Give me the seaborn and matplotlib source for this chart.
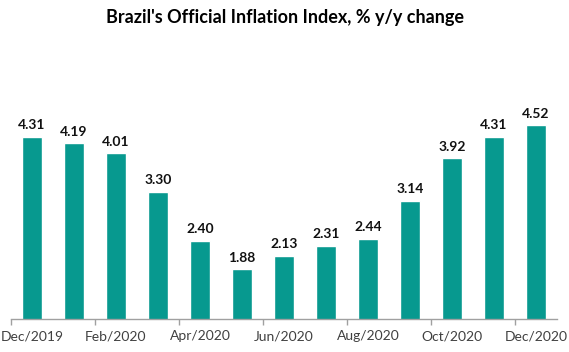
import matplotlib
matplotlib.use("Agg")
import matplotlib.pyplot as plt
import seaborn as sns
import pandas as pd
from matplotlib.ticker import FixedLocator

months = ["Dec/2019", "Jan/2020", "Feb/2020", "Mar/2020", "Apr/2020", "May/2020", "Jun/2020",
          "Jul/2020", "Aug/2020", "Sep/2020", "Oct/2020", "Nov/2020", "Dec/2020"]
inflation = [4.31, 4.19, 4.01, 3.30, 2.40, 1.88, 2.13, 2.31, 2.44, 3.14, 3.92, 4.31, 4.52]

TEAL = "#07998F"

sns.set_theme(style="white")
plt.rcParams['font.family'] = ['Lato', 'DejaVu Sans']

df = pd.DataFrame({"month": months, "value": inflation})

fig = plt.figure(figsize=(5.69, 3.52), dpi=100)
ax = fig.add_axes([11/569, 33/352, 546/569, 216/352])

sns.barplot(data=df, x="month", y="value", color=TEAL, width=0.48, saturation=1, ax=ax)

ax.set_ylim(0.97, 4.93)
ax.set_xlim(-0.5, len(months) - 0.5)

for i, v in enumerate(inflation):
    ax.annotate(f"{v:.2f}", (i, v), xytext=(0, 4), textcoords="offset points",
                ha="center", va="bottom", fontsize=10, fontweight="bold", color="#111111")

# labels every other month, tick marks at category boundaries
ax.set_xticks(range(0, len(months), 2))
ax.set_xticklabels(months[::2], fontsize=10, color="#404040")
ax.tick_params(axis="x", which="major", length=0, pad=8)
ax.xaxis.set_minor_locator(FixedLocator([-0.5 + 2 * k for k in range(7)]))
ax.tick_params(axis="x", which="minor", length=4, color="#A0A0A0", width=1, bottom=True)

ax.set_yticks([])
ax.set_xlabel("")
ax.set_ylabel("")
for s in ["top", "right", "left"]:
    ax.spines[s].set_visible(False)
ax.spines["bottom"].set_color("#A0A0A0")
ax.spines["bottom"].set_linewidth(1)

fig.text(0.5, 1 - 18/352, "Brazil's Official Inflation Index, % y/y change",
         ha="center", va="center", fontsize=13, fontweight="bold", color="#000000")

fig.savefig("out.png", dpi=100)
